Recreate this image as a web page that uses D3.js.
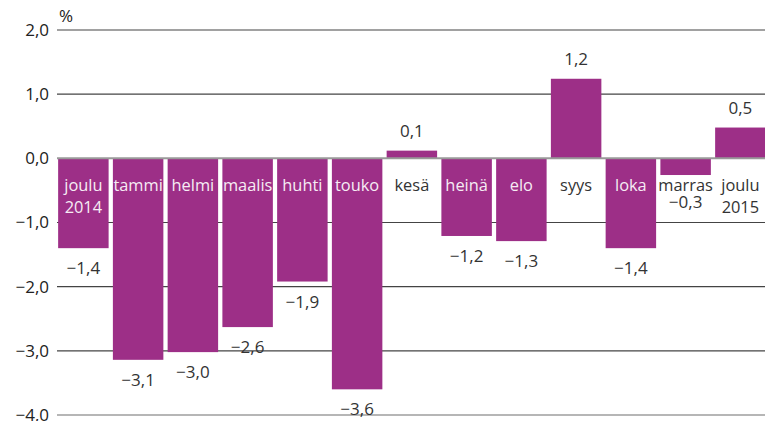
<!DOCTYPE html>
<meta charset="utf-8">
<script src="https://d3js.org/d3.v7.min.js"></script>
<style>
body { margin: 0; background: #fff; }
text { font-family: "Open Sans", sans-serif; font-size: 17px; }
</style>
<div id="chart"></div>
<script>
// months (Finnish), change in %
var categories = ["joulu 2014", "tammi", "helmi", "maalis", "huhti", "touko", "kesä",
                  "heinä", "elo", "syys", "loka", "marras", "joulu 2015"];
var values = [-1.40, -3.14, -3.02, -2.63, -1.92, -3.60, 0.12, -1.21, -1.29, 1.24, -1.40, -0.26, 0.48];
var yTicks = [-4, -3, -2, -1, 0, 1, 2];

var width = 765, height = 421;

var svg = d3.select("#chart").append("svg")
    .attr("width", width)
    .attr("height", height);

var fi = d3.formatLocale({decimal: ",", thousands: " ", grouping: [3], currency: ["", " €"], minus: "\u2212"});
var fmt = fi.format(".1f");

var x = d3.scaleBand()
    .domain(categories)
    .range([56, 767.75])
    .paddingInner(0.078)
    .paddingOuter(0.039);

var y = d3.scaleLinear()
    .domain([-4, 2])
    .range([415, 30]);

// grid lines (behind bars)
svg.append("g").selectAll("line")
  .data(yTicks.filter(function(d) { return d !== 0; }))
  .enter().append("line")
    .attr("x1", 57).attr("x2", width)
    .attr("y1", function(d) { return y(d); })
    .attr("y2", function(d) { return y(d); })
    .attr("stroke", function(d) { return d === -4 ? "#6e6e6e" : "#444"; })
    .attr("stroke-width", 1.2);

// y axis labels
var yAxis = svg.append("g")
    .attr("transform", "translate(49,0)")
    .call(d3.axisLeft(y).tickValues(yTicks).tickSize(0).tickPadding(0).tickFormat(fmt));
yAxis.select(".domain").remove();
yAxis.selectAll("text")
    .attr("fill", "#222")
    .style("font-size", "17px")
    .style("font-family", "'Open Sans', sans-serif");

svg.append("text")
    .attr("x", 59).attr("y", 22)
    .attr("fill", "#222")
    .text("%");

// bars
svg.append("g").selectAll("rect")
  .data(values)
  .enter().append("rect")
    .attr("x", function(d, i) { return x(categories[i]); })
    .attr("width", x.bandwidth())
    .attr("y", function(d) { return y(Math.max(0, d)); })
    .attr("height", function(d) { return Math.abs(y(d) - y(0)); })
    .attr("fill", "#9d2f87");

// zero line
svg.append("line")
    .attr("x1", 57).attr("x2", width)
    .attr("y1", y(0)).attr("y2", y(0))
    .attr("stroke", "#999")
    .attr("stroke-width", 2);

// category labels under the zero line
var cat = svg.append("g").selectAll("text")
  .data(categories)
  .enter().append("text")
    .attr("text-anchor", "middle")
    .style("font-size", "16.4px")
    .attr("fill", function(d, i) { return values[i] < -1 ? "#f6ecf4" : "#333"; })
    .attr("y", 191);
cat.selectAll("tspan")
  .data(function(d) { return d.split(" ").map(function(s) { return {s: s, c: d}; }); })
  .enter().append("tspan")
    .attr("x", function(d) { return x(d.c) + x.bandwidth() / 2; })
    .attr("dy", function(d, j) { return j === 0 ? 0 : 21.5; })
    .text(function(d) { return d.s; });

// value labels
svg.append("g").selectAll("text")
  .data(values)
  .enter().append("text")
    .attr("text-anchor", "middle")
    .attr("fill", "#333")
    .attr("x", function(d, i) { return x(categories[i]) + x.bandwidth() / 2; })
    .attr("y", function(d) {
      if (d >= 0) return y(d) - 14;
      return Math.max(y(d) + 26, 208);
    })
    .text(function(d) { return fmt(d); });
</script>
